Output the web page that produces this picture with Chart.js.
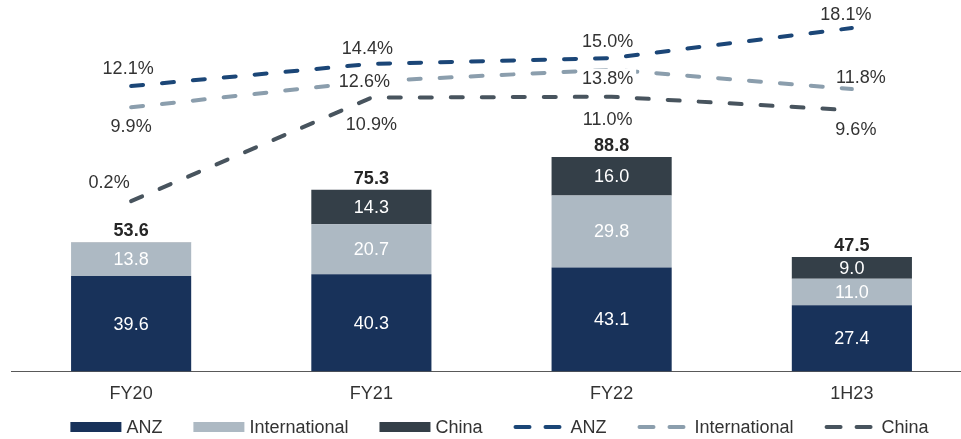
<!DOCTYPE html>
<html>
<head>
<meta charset="utf-8">
<script src="https://cdn.jsdelivr.net/npm/chart.js@4"></script>
<style>
  html, body { margin: 0; padding: 0; background: #fff; overflow: hidden; }
  #wrap { position: relative; width: 990px; height: 439px; }
</style>
</head>
<body>
<div id="wrap"><canvas id="chart"></canvas></div>
<script>
const categories = ['FY20', 'FY21', 'FY22', '1H23'];
const seriesNames = ['ANZ', 'International', 'China'];

// revenue bars (stacked)
const anzRevenue = [39.6, 40.3, 43.1, 27.4];
const intlRevenue = [13.8, 20.7, 29.8, 11.0];
const chinaRevenue = [0.2, 14.3, 16.0, 9.0];
const totalRevenue = [53.6, 75.3, 88.8, 47.5];

// margin lines (%)
const anzMargin = [12.1, 14.4, 15.0, 18.1];
const intlMargin = [9.9, 12.6, 13.8, 11.8];
const chinaMargin = [0.2, 10.9, 11.0, 9.6];

const barColors = ['#18325a', '#adb9c3', '#343f48'];
const lineColors = ['#1b4677', '#8b9ead', '#48545e'];
const textColor = '#333333';
const fontFamily = '"Liberation Sans", Arial, sans-serif';
const fontSize = 18;

// where each % label sits relative to its point
const marginLabelOffsets = [
  [[-3, -18], [-4, -16], [-4, -17], [-6, -14]],
  [[0, 19], [-7, 0], [-4, 8], [9, -12]],
  [[-22, -19], [0, 26], [-4, 22], [4, 19]]
];
const maskedLabels = [
  [false, false, false, false],
  [false, true, true, false],
  [false, false, false, false]
];

Chart.defaults.font.family = fontFamily;

const revenue = [anzRevenue, intlRevenue, chinaRevenue];
const margins = [anzMargin, intlMargin, chinaMargin];

const datasets = [];
revenue.forEach((vals, i) => {
  datasets.push({
    type: 'bar',
    label: seriesNames[i],
    data: vals,
    backgroundColor: barColors[i],
    stack: 'rev',
    yAxisID: 'y',
    barPercentage: 0.5,
    categoryPercentage: 1
  });
});
margins.forEach((vals, i) => {
  datasets.push({
    type: 'line',
    label: seriesNames[i] + ' margin',
    data: vals,
    borderColor: lineColors[i],
    borderWidth: 4,
    borderDash: [12, 19],
    borderCapStyle: 'round',
    pointRadius: 0,
    tension: 0,
    fill: false,
    yAxisID: 'y1'
  });
});

const valueLabels = {
  id: 'valueLabels',
  afterDatasetsDraw(chart) {
    const ctx = chart.ctx;
    ctx.save();
    ctx.textAlign = 'center';
    ctx.textBaseline = 'middle';

    // segment values
    ctx.font = fontSize + 'px ' + fontFamily;
    ctx.fillStyle = '#ffffff';
    revenue.forEach((vals, di) => {
      chart.getDatasetMeta(di).data.forEach((bar, i) => {
        if (vals[i] < 1) return;
        ctx.fillText(vals[i].toFixed(1), bar.x, (bar.y + bar.base) / 2 + 1);
      });
    });

    // totals
    ctx.font = 'bold ' + fontSize + 'px ' + fontFamily;
    ctx.fillStyle = '#262626';
    const topMeta = chart.getDatasetMeta(revenue.length - 1);
    topMeta.data.forEach((bar, i) => {
      ctx.fillText(totalRevenue[i].toFixed(1), bar.x, bar.y - 11);
    });

    // margin %
    ctx.font = fontSize + 'px ' + fontFamily;
    margins.forEach((vals, si) => {
      const meta = chart.getDatasetMeta(revenue.length + si);
      meta.data.forEach((pt, i) => {
        const txt = vals[i].toFixed(1) + '%';
        const [dx, dy] = marginLabelOffsets[si][i];
        const x = pt.x + dx, y = pt.y + dy;
        if (maskedLabels[si][i]) {
          const w = ctx.measureText(txt).width + 6;
          ctx.fillStyle = '#ffffff';
          ctx.fillRect(x - w / 2, y - 9, w, 18);
        }
        ctx.fillStyle = textColor;
        ctx.fillText(txt, x, y + 1);
      });
    });
    ctx.restore();
  }
};

const bottomLegend = {
  id: 'bottomLegend',
  afterDraw(chart) {
    const ctx = chart.ctx;
    ctx.save();
    ctx.font = fontSize + 'px ' + fontFamily;
    ctx.textBaseline = 'middle';
    ctx.textAlign = 'left';
    const items = [];
    seriesNames.forEach((n, i) => items.push({ text: n, color: barColors[i], dashed: false }));
    seriesNames.forEach((n, i) => items.push({ text: n, color: lineColors[i], dashed: true }));
    items.forEach(it => {
      it.sw = it.dashed ? 48 : 51;
      it.gap = it.dashed ? 9 : 5;
      it.tw = ctx.measureText(it.text).width;
    });
    const spacing = 31;
    const total = items.reduce((s, it) => s + it.sw + it.gap + it.tw, 0) + spacing * (items.length - 1);
    const cx = (chart.chartArea.left + chart.chartArea.right) / 2 + 8;
    const y = chart.height - 12;
    let x = cx - total / 2;
    items.forEach(it => {
      if (it.dashed) {
        ctx.strokeStyle = it.color;
        ctx.lineWidth = 4;
        ctx.lineCap = 'round';
        ctx.beginPath();
        ctx.moveTo(x + 2, y); ctx.lineTo(x + 16, y);
        ctx.moveTo(x + 32, y); ctx.lineTo(x + 46, y);
        ctx.stroke();
      } else {
        ctx.fillStyle = it.color;
        ctx.fillRect(x, y - 5, it.sw, 10);
      }
      x += it.sw + it.gap;
      ctx.fillStyle = textColor;
      ctx.fillText(it.text, x, y + 1);
      x += it.tw + spacing;
    });
    ctx.restore();
  }
};

new Chart(document.getElementById('chart'), {
  type: 'bar',
  data: { labels: categories, datasets: datasets },
  options: {
    responsive: true,
    maintainAspectRatio: false,
    animation: false,
    events: [],
    layout: { padding: { left: 11, right: 18, top: 0, bottom: 22 } },
    plugins: { legend: { display: false }, tooltip: { enabled: false } },
    scales: {
      x: {
        stacked: true,
        grid: { display: false, drawTicks: false },
        border: { display: true, color: '#595959', width: 1 },
        ticks: { color: textColor, font: { size: fontSize }, padding: 12 }
      },
      y: { display: false, stacked: true, min: 0, max: 154 },
      y1: { display: false, min: -17.4, max: 21.0 }
    }
  },
  plugins: [valueLabels, bottomLegend]
});
</script>
</body>
</html>
